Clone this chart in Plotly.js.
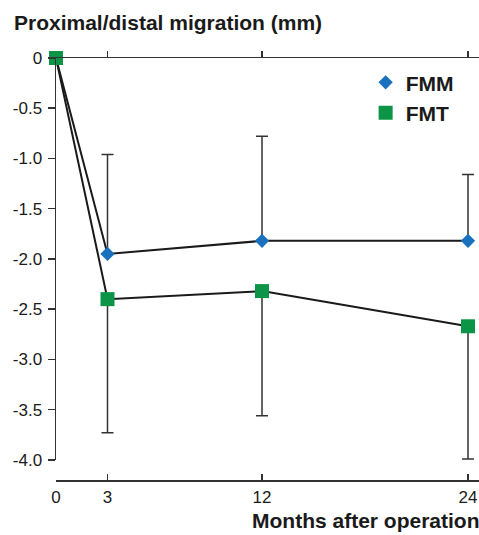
<!DOCTYPE html>
<html>
<head>
<meta charset="utf-8">
<script src="https://cdn.plot.ly/plotly-3.0.1.min.js"></script>
<style>html,body{margin:0;padding:0;background:#fff;}#chart{width:479px;height:535px;}</style>
</head>
<body>
<div id="chart"></div>
<script>
const months = [0, 3, 12, 24];
const fmm = [0, -1.95, -1.82, -1.82];
const fmmErrPlus = [0, 0.99, 1.04, 0.66];
const fmt = [0, -2.40, -2.32, -2.67];
const fmtErrMinus = [0, 1.33, 1.24, 1.32];
const yTickVals = [0, -0.5, -1.0, -1.5, -2.0, -2.5, -3.0, -3.5, -4.0];
const yTickText = ["0", "-0.5", "-1.0", "-1.5", "-2.0", "-2.5", "-3.0", "-3.5", "-4.0"];
const xTickVals = [0, 3, 12, 24];

const FONT = '"Liberation Sans", Arial, sans-serif';
const axisCol = '#333333';

const traces = [
  {x: months, y: fmm, mode: 'lines', line: {color: '#1a1a1a', width: 2}, showlegend: false, hoverinfo: 'skip', cliponaxis: false},
  {x: months, y: fmt, mode: 'lines', line: {color: '#1a1a1a', width: 2}, showlegend: false, hoverinfo: 'skip', cliponaxis: false},
  {x: months, y: fmm, mode: 'markers', name: 'FMM', cliponaxis: false,
   marker: {symbol: 'diamond', size: 11, color: '#1a72bf'},
   error_y: {type: 'data', symmetric: false, array: fmmErrPlus, arrayminus: [0,0,0,0], color: axisCol, thickness: 1.5, width: 6}},
  {x: months, y: fmt, mode: 'markers', name: 'FMT', cliponaxis: false,
   marker: {symbol: 'square', size: 14, color: '#0c9447'},
   error_y: {type: 'data', symmetric: false, array: [0,0,0,0], arrayminus: fmtErrMinus, color: axisCol, thickness: 1.5, width: 6}},
  {x: [3, 12, 24], y: [0, 0, 0], xaxis: 'x2', yaxis: 'y', mode: 'markers', marker: {opacity: 0}, showlegend: false, hoverinfo: 'skip'}
];

const layout = {
  width: 479, height: 535,
  margin: {l: 56, r: 0, t: 58, b: 55},
  paper_bgcolor: '#ffffff', plot_bgcolor: '#ffffff',
  font: {family: FONT, color: '#1a1a1a'},
  showlegend: true,
  legend: {x: 0.732, y: 0.99, xanchor: 'left', yanchor: 'top', bgcolor: 'rgba(0,0,0,0)',
           font: {family: FONT, size: 21, color: '#1a1a1a', weight: 'bold'}, tracegroupgap: 0},
  xaxis: {range: [0, 24.64], anchor: 'free', position: 0, tickmode: 'array', tickvals: xTickVals,
          ticktext: xTickVals.map(String), ticks: 'inside', ticklen: 6, tickwidth: 1.5, tickcolor: axisCol,
          showline: true, linecolor: axisCol, linewidth: 1.5, showgrid: false, zeroline: false,
          tickfont: {family: FONT, size: 17, color: '#1a1a1a'}, ticklabelstandoff: 1, fixedrange: true},
  xaxis2: {range: [0, 24.64], overlaying: 'x', anchor: 'y', side: 'top', tickmode: 'array', tickvals: [3, 12, 24],
           ticks: 'outside', ticklen: 6, tickwidth: 1.5, tickcolor: axisCol, showticklabels: false,
           showline: true, linecolor: axisCol, linewidth: 1.5, showgrid: false, zeroline: false},
  yaxis: {range: [-4, 0], domain: [0.2/4.2, 1], tickmode: 'array', tickvals: yTickVals, ticktext: yTickText,
          ticks: 'outside', ticklen: 7, tickwidth: 1.5, tickcolor: axisCol,
          showline: true, linecolor: axisCol, linewidth: 1.5, showgrid: false, zeroline: false,
          tickfont: {family: FONT, size: 17, color: '#1a1a1a'}, ticklabelstandoff: 2},
  annotations: [
    {text: 'Proximal/distal migration (mm)', xref: 'paper', yref: 'paper', x: -0.104, y: 1.083,
     xanchor: 'left', yanchor: 'middle', showarrow: false,
     font: {family: FONT, size: 21, color: '#1a1a1a', weight: 'bold'}},
    {text: 'Months after operation', xref: 'paper', yref: 'paper', x: 1, y: -0.095, xshift: 3,
     xanchor: 'right', yanchor: 'middle', showarrow: false,
     font: {family: FONT, size: 21, color: '#1a1a1a', weight: 'bold'}}
  ]
};

Plotly.newPlot('chart', traces, layout, {displayModeBar: false, staticPlot: true});
</script>
</body>
</html>
